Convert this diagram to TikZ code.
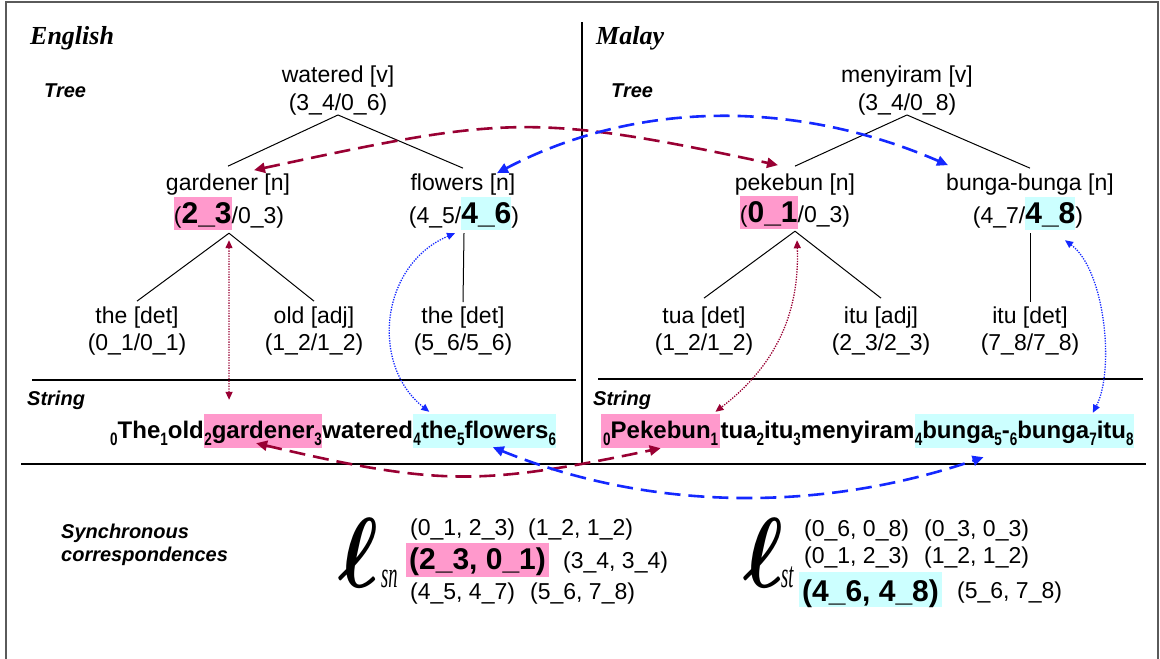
\documentclass[tikz,border=0pt]{standalone}
\usepackage{fontspec}
\setmainfont{Liberation Sans}
\newfontfamily\serifhead{Liberation Serif}
\usetikzlibrary{arrows.meta,calc}

\definecolor{hlpink}{RGB}{255,153,204}
\definecolor{hlcyan}{RGB}{204,255,255}
\definecolor{linkred}{RGB}{153,0,51}
\definecolor{linkblue}{RGB}{20,40,255}
\definecolor{framegray}{RGB}{90,90,90}

\newcommand\fs[1]{\fontsize{#1}{#1}\selectfont}
% lowered, narrow position index inside a string
\newcommand\lo[1]{\raisebox{-7pt}{\scalebox{0.75}[1]{\fs{18}#1}}}
% coloured band behind part of a span label
\newcommand\hlspan[2]{{\setlength{\fboxsep}{0pt}\colorbox{#1}{\rule[-7pt]{0pt}{33pt}#2}}}
% bold script ell taken from the math italic font
\newcommand\scriptell{\scalebox{3.4}[4.0]{\fontsize{25}{25}\usefont{OML}{cmm}{b}{it}\char"60}}
% narrow italic subscript of the ell
\newcommand\ellindex[1]{\scalebox{0.5}[1]{\serifhead\itshape\fs{37}#1}}

\tikzset{
  sechead/.style={font=\serifhead\bfseries\itshape\fs{26}, anchor=base west, inner sep=0pt},
  sublabel/.style={font=\bfseries\itshape\fs{20}, anchor=base west, inner sep=0pt},
  tlabel/.style={font=\fs{23}, anchor=base, inner sep=0pt},
  tedge/.style={line width=1pt},
  sepline/.style={line width=1.7pt},
  strpart/.style={font=\bfseries\fs{24}, anchor=base west, inner sep=0pt,
    text height=24pt, text depth=10pt},
  pairtxt/.style={font=\fs{23}, anchor=base west, inner sep=0pt},
  pairhl/.style={font=\bfseries\fs{30}, anchor=base west, inner xsep=3pt, inner ysep=0pt},
  bigell/.style={anchor=base west, inner sep=0pt},
  ellsub/.style={anchor=base west, inner sep=0pt},
  tipboth/.style={{Triangle[length=11pt,width=10pt]}-{Triangle[length=11pt,width=10pt]}},
  smalltips/.style={{Triangle[length=8pt,width=7pt]}-{Triangle[length=8pt,width=7pt]}},
  dashlink/.style={line width=2.6pt, dash pattern=on 16pt off 8pt, tipboth},
  dotlink/.style={line width=1.3pt, dash pattern=on 1.3pt off 1.3pt, smalltips},
}

\begin{document}
\begin{tikzpicture}[x=1pt,y=-1pt]
\useasboundingbox (0,0) rectangle (1160,659);
\fill[white] (0,0) rectangle (1160,659);

% outer frame, column divider and section rules
\draw[framegray, line width=2pt] (6,659) -- (6,2) -- (1158,2) -- (1158,659);
\draw[line width=1.2pt] (582,22) -- (582,464);
\draw[sepline] (32,380) -- (576,380);
\draw[sepline] (598,379) -- (1143,379);
\draw[line width=1.5pt] (21,464) -- (1146,464);

% headings
\node[sechead] (hEn) at (30,44) {English};
\node[sechead] (hMs) at (596,44) {Malay};
\node[sublabel] (treeEn) at (44,97) {Tree};
\node[sublabel] (treeMs) at (611,97) {Tree};
\node[sublabel] (strEn) at (27,405) {String};
\node[sublabel] (strMs) at (593,405) {String};
\node[sublabel] (syn1) at (61,538) {Synchronous};
\node[sublabel] (syn2) at (61,561) {correspondences};

% English tree
\node[tlabel] (wv) at (338,82) {watered [v]};
\node[tlabel] (ws) at (338,110) {(3\_4/0\_6)};
\node[tlabel] (gw) at (228,190) {gardener [n]};
\node[tlabel] (gs) at (229,223) {\hlspan{hlpink}{(\textbf{\fs{30}2\_3}}/0\_3)};
\node[tlabel] (fw) at (463,190) {flowers [n]};
\node[tlabel] (fsp) at (464,223) {(4\_5/\hlspan{hlcyan}{\textbf{\fs{30}4\_6}})};
\node[tlabel] (d1w) at (137,323) {the [det]};
\node[tlabel] (d1s) at (137,350) {(0\_1/0\_1)};
\node[tlabel] (a1w) at (314,323) {old [adj]};
\node[tlabel] (a1s) at (314,350) {(1\_2/1\_2)};
\node[tlabel] (d2w) at (463,323) {the [det]};
\node[tlabel] (d2s) at (463,350) {(5\_6/5\_6)};

\draw[tedge] (ws.south) -- ($(gw.north)+(0,-7)$);
\draw[tedge] (ws.south) -- ($(fw.north)+(0,-5)$);
\draw[tedge] ($(gs.south)+(0,3)$) -- ($(d1w.north)+(0,-5)$);
\draw[tedge] ($(gs.south)+(0,3)$) -- ($(a1w.north)+(0,-5)$);
\draw[tedge] ($(fsp.south)+(0,3)$) -- ($(d2w.north)+(0,-4)$);

% Malay tree
\node[tlabel] (mv) at (907,82) {menyiram [v]};
\node[tlabel] (ms) at (907,110) {(3\_4/0\_8)};
\node[tlabel] (pw) at (795,190) {pekebun [n]};
\node[tlabel] (psp) at (795,222) {\hlspan{hlpink}{(\textbf{\fs{30}0\_1}}/0\_3)};
\node[tlabel] (bw) at (1030,190) {bunga-bunga [n]};
\node[tlabel] (bsp) at (1028,223) {(4\_7/\hlspan{hlcyan}{\textbf{\fs{30}4\_8}})};
\node[tlabel] (tw) at (704,323) {tua [det]};
\node[tlabel] (ts) at (704,350) {(1\_2/1\_2)};
\node[tlabel] (iaw) at (881,323) {itu [adj]};
\node[tlabel] (ias) at (881,350) {(2\_3/2\_3)};
\node[tlabel] (idw) at (1030,323) {itu [det]};
\node[tlabel] (ids) at (1030,350) {(7\_8/7\_8)};

\draw[tedge] (ms.south) -- ($(pw.north)+(0,-7)$);
\draw[tedge] (ms.south) -- ($(bw.north)+(0,-5)$);
\draw[tedge] ($(psp.south)+(0,2)$) -- ($(tw.north)+(0,-8)$);
\draw[tedge] ($(psp.south)+(0,2)$) -- ($(iaw.north)+(0,-8)$);
\draw[tedge] ($(bsp.south)+(2,3)$) -- ($(idw.north)+(0,-4)$);

% English string
\node[strpart] (e0) at (110,438) {\lo{0}The\lo{1}old};
\node[strpart, fill=hlpink] (e1) at (e0.base east) {\lo{2}gardener\lo{3}};
\node[strpart] (e2) at (e1.base east) {watered};
\node[strpart, fill=hlcyan] (e3) at (e2.base east) {\lo{4}the\lo{5}flowers\lo{6}};

% Malay string
\node[strpart, fill=hlpink, inner xsep=2pt] (m0) at (601,438) {\lo{0}Pekebun\lo{1}};
\node[strpart] (m1) at (m0.base east) {tua\lo{2}itu\lo{3}menyiram};
\node[strpart, fill=hlcyan] (m2) at (m1.base east) {\lo{4}bunga\lo{5}-\lo{6}bunga\lo{7}itu\lo{8}};

% synchronous correspondences
\node[bigell] (lsn) at (338,587) {\scriptell};
\node[ellsub] (lsnsub) at ($(lsn.base west)+(43,0)$) {\ellindex{sn}};
\node[pairtxt] (c1a) at (410,535) {(0\_1, 2\_3)};
\node[pairtxt] (c1b) at (528,535) {(1\_2, 1\_2)};
\node[pairhl, fill=hlpink, text height=26pt, text depth=8pt] (c2a) at (406,569) {(2\_3, 0\_1)};
\node[pairtxt] (c2b) at (563,568) {(3\_4, 3\_4)};
\node[pairtxt] (c3a) at (410,599) {(4\_5, 4\_7)};
\node[pairtxt] (c3b) at (530,599) {(5\_6, 7\_8)};

\node[bigell] (lst) at (743,587) {\scriptell};
\node[ellsub] (lstsub) at ($(lst.base west)+(38,0)$) {\ellindex{st}};
\node[pairtxt] (s1a) at (804,536) {(0\_6, 0\_8)};
\node[pairtxt] (s1b) at (924,536) {(0\_3, 0\_3)};
\node[pairtxt] (s2a) at (804,563) {(0\_1, 2\_3)};
\node[pairtxt] (s2b) at (924,563) {(1\_2, 1\_2)};
\node[pairhl, fill=hlcyan, text height=29pt, text depth=6pt] (s3a) at (799,601) {(4\_6, 4\_8)};
\node[pairtxt] (s3b) at (957,598) {(5\_6, 7\_8)};

% links between the two trees
\draw[dashlink, draw=linkred]
  ($(gw.north)+(26,-3)$) .. controls (502,117) and (530,112) .. ($(pw.north)+(-17,-8)$);
\draw[dashlink, draw=linkblue]
  ($(fw.north)+(34,0)$) .. controls (640,98) and (800,101) .. ($(bw.north)+(-82,-8)$);

% links between tree spans and string positions
\draw[dotlink, draw=linkred] ($(gs.south)+(0,10)$) -- ($(e1.north west)+(25,-14)$);
\draw[dotlink, draw=linkblue]
  ($(fsp.south)+(-9,3)$) .. controls (380,265) and (370,365) .. ($(e3.north west)+(16,-2)$);
\draw[dotlink, draw=linkred]
  ($(psp.south)+(2,11)$) .. controls (800,320) and (770,370) .. ($(m0.north east)+(-5,-2)$);
\draw[dotlink, draw=linkblue]
  ($(bsp.south)+(37,10)$) .. controls (1105,270) and (1115,370) .. ($(m2.north east)+(-41,-1)$);

% links between the two strings
\draw[dashlink, draw=linkred]
  ($(e1.south)+(-7,-5)$) .. controls (438,486) and (480,486) .. (m0.south);
\draw[dashlink, draw=linkblue]
  ($(e3.south)+(8,-1)$) .. controls (652,512) and (822,512) .. ($(m2.south west)+(69,9)$);
\end{tikzpicture}
\end{document}
